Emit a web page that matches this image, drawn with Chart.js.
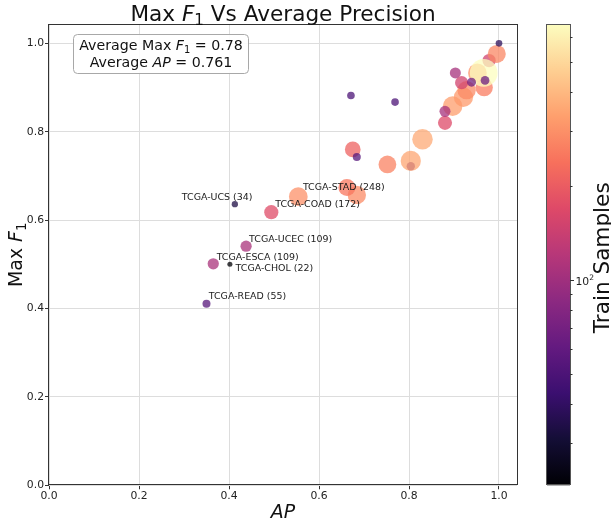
<!DOCTYPE html>
<html>
<head>
<meta charset="utf-8">
<script src="https://cdn.jsdelivr.net/npm/chart.js@4.4.0/dist/chart.umd.min.js"></script>
<style>
  html, body { margin: 0; padding: 0; background: #ffffff; }
  canvas { display: block; }
</style>
</head>
<body>
<canvas id="chart" width="611" height="522"></canvas>
<script>
// Per-cohort results, listed in drawing order (later entries sit on top).
const cohorts = [
  '', '', '', '', '', '', '', '', '', '',
  '', '', '', '', '', '', '', 'TCGA-STAD', 'TCGA-COAD', '',
  '', 'TCGA-UCEC', 'TCGA-ESCA', '', '', '', '', '', 'TCGA-READ', 'TCGA-UCS',
  '', 'TCGA-CHOL'
];
const apValues = [
  0.804, 0.978, 0.897, 0.921, 0.928, 0.967, 0.952, 0.830, 0.804, 0.752,
  0.684, 0.554, 0.995, 0.966, 0.675, 0.880, 0.917, 0.662, 0.494, 0.880,
  0.903, 0.438, 0.365, 0.939, 0.969, 0.671, 0.769, 0.684, 0.350, 0.413,
  1.000, 0.402
];
const maxF1Values = [
  0.722, 0.961, 0.858, 0.878, 0.894, 0.900, 0.933, 0.783, 0.734, 0.726,
  0.657, 0.653, 0.976, 0.933, 0.760, 0.820, 0.911, 0.674, 0.618, 0.846,
  0.933, 0.541, 0.501, 0.912, 0.916, 0.882, 0.867, 0.743, 0.411, 0.636,
  1.000, 0.500
];
const trainSamples = [
  60, 150, 330, 320, 290, 260, 300, 360, 350, 270,
  290, 300, 280, 660, 210, 170, 150, 248, 172, 105,
  105, 109, 109, 68, 65, 50, 50, 55, 55, 34,
  38, 22
];
const axisTicks = [0.0, 0.2, 0.4, 0.6, 0.8, 1.0];
const colorbarMinorTicks = [30, 40, 50, 60, 70, 80, 90, 200, 300, 400, 500, 600];
const colorbarMajorTicks = [100];
const summaryLines = [
  [{ t: 'Average Max ' }, { t: 'F', i: true }, { t: '1', sub: true }, { t: ' = 0.78' }],
  [{ t: 'Average ' }, { t: 'AP', i: true }, { t: ' = 0.761' }]
];

const FONT = '"DejaVu Sans", sans-serif';
const MAGMA = ['#000004', '#140e36', '#3b0f70', '#641a80', '#8c2981', '#b73779',
               '#de4968', '#f7705c', '#fe9f6d', '#fecf92', '#fcfdbf'];
const vmin = Math.min(...trainSamples);
const vmax = Math.max(...trainSamples);

function hexToRgb(h) {
  return [parseInt(h.slice(1, 3), 16), parseInt(h.slice(3, 5), 16), parseInt(h.slice(5, 7), 16)];
}
function magma(f) {
  f = Math.max(0, Math.min(1, f));
  const p = f * (MAGMA.length - 1);
  const i = Math.min(MAGMA.length - 2, Math.floor(p));
  const t = p - i;
  const a = hexToRgb(MAGMA[i]), b = hexToRgb(MAGMA[i + 1]);
  return a.map((v, k) => Math.round(v + (b[k] - v) * t));
}
function logNorm(n) {
  return (Math.log10(n) - Math.log10(vmin)) / (Math.log10(vmax) - Math.log10(vmin));
}
function sampleColor(n, alpha) {
  const c = magma(logNorm(n));
  return `rgba(${c[0]},${c[1]},${c[2]},${alpha})`;
}
function markerRadius(n) {
  return 0.54 * Math.sqrt(n);
}

// Label placement relative to each annotated marker (text left edge, text middle)
const labelOffsets = {
  'TCGA-UCS': [-53, -6.3],
  'TCGA-STAD': [-44, 0],
  'TCGA-COAD': [4, -8],
  'TCGA-UCEC': [3, -7],
  'TCGA-ESCA': [3.4, -6.7],
  'TCGA-CHOL': [5.7, 4.4],
  'TCGA-READ': [2.3, -6.7]
};

function partFont(p, size) {
  const s = (p.sub || p.sup) ? size * 0.7 : size;
  return `${p.i ? 'italic ' : ''}${s}px ${FONT}`;
}
function richWidth(ctx, parts, size) {
  let w = 0;
  for (const p of parts) { ctx.font = partFont(p, size); w += ctx.measureText(p.t).width; }
  return w;
}
function drawRich(ctx, parts, x, y, size, align) {
  const w = richWidth(ctx, parts, size);
  let cx = align === 'center' ? x - w / 2 : (align === 'right' ? x - w : x);
  ctx.textAlign = 'left';
  ctx.textBaseline = 'alphabetic';
  for (const p of parts) {
    ctx.font = partFont(p, size);
    const dy = p.sub ? size * 0.2 : (p.sup ? -size * 0.38 : 0);
    ctx.fillText(p.t, cx, y + dy);
    cx += ctx.measureText(p.t).width;
  }
}

const overlay = {
  id: 'overlay',
  afterDraw(chart) {
    const ctx = chart.ctx;
    const area = chart.chartArea;
    const xs = chart.scales.x, ys = chart.scales.y, cb = chart.scales.cb;
    ctx.save();

    // axes frame
    ctx.strokeStyle = '#333333';
    ctx.lineWidth = 1;
    ctx.strokeRect(Math.round(area.left) - 0.5, Math.round(area.top) + 0.5,
                   Math.round(area.right) - Math.round(area.left) + 1,
                   Math.round(area.bottom) - Math.round(area.top) - 1);

    // cohort annotations
    ctx.fillStyle = '#1a1a1a';
    ctx.font = `9.45px ${FONT}`;
    ctx.textAlign = 'left';
    ctx.textBaseline = 'middle';
    cohorts.forEach((name, i) => {
      if (!name) return;
      const off = labelOffsets[name] || [3, -7];
      const px = xs.getPixelForValue(apValues[i]);
      const py = ys.getPixelForValue(maxF1Values[i]);
      ctx.fillText(`${name} (${trainSamples[i]})`, px + off[0], py + off[1]);
    });

    // summary box
    const bx = 73.5, by = 34.5, bw = 175, bh = 39, r = 4;
    ctx.beginPath();
    ctx.moveTo(bx + r, by);
    ctx.lineTo(bx + bw - r, by);
    ctx.arcTo(bx + bw, by, bx + bw, by + r, r);
    ctx.lineTo(bx + bw, by + bh - r);
    ctx.arcTo(bx + bw, by + bh, bx + bw - r, by + bh, r);
    ctx.lineTo(bx + r, by + bh);
    ctx.arcTo(bx, by + bh, bx, by + bh - r, r);
    ctx.lineTo(bx, by + r);
    ctx.arcTo(bx, by, bx + r, by, r);
    ctx.closePath();
    ctx.fillStyle = 'rgba(255,255,255,0.9)';
    ctx.fill();
    ctx.strokeStyle = '#a8a8a8';
    ctx.stroke();
    ctx.fillStyle = '#111111';
    drawRich(ctx, summaryLines[0], bx + bw / 2, 50.3, 14.2, 'center');
    drawRich(ctx, summaryLines[1], bx + bw / 2, 67, 14.2, 'center');

    // title
    const midX = (area.left + area.right) / 2;
    ctx.fillStyle = '#111111';
    drawRich(ctx, [{ t: 'Max ' }, { t: 'F', i: true }, { t: '1', sub: true }, { t: ' Vs Average Precision' }],
             midX, 20.5, 21.6, 'center');

    // axis titles
    drawRich(ctx, [{ t: 'AP', i: true }], midX, 518, 18.9, 'center');
    ctx.save();
    ctx.translate(22, (area.top + area.bottom) / 2);
    ctx.rotate(-Math.PI / 2);
    drawRich(ctx, [{ t: 'Max ' }, { t: 'F', i: true }, { t: '1', sub: true }], 0, 0, 18.9, 'center');
    ctx.restore();

    // colorbar
    const cx0 = area.right + 30, cw = 23;
    const top = cb.top, bottom = cb.bottom;
    const grad = ctx.createLinearGradient(0, bottom, 0, top);
    MAGMA.forEach((c, i) => grad.addColorStop(i / (MAGMA.length - 1), c));
    ctx.fillStyle = grad;
    ctx.fillRect(cx0, top, cw, bottom - top);
    ctx.strokeStyle = '#555555';
    ctx.lineWidth = 1;
    ctx.strokeRect(Math.round(cx0) - 0.5, Math.round(top) + 0.5, cw + 1, Math.round(bottom - top) - 1);

    ctx.strokeStyle = '#333333';
    colorbarMinorTicks.forEach(v => {
      const y = Math.round(cb.getPixelForValue(v)) + 0.5;
      ctx.beginPath(); ctx.moveTo(cx0 + cw, y); ctx.lineTo(cx0 + cw + 2.5, y); ctx.stroke();
    });
    ctx.fillStyle = '#222222';
    colorbarMajorTicks.forEach(v => {
      const y = Math.round(cb.getPixelForValue(v)) + 0.5;
      ctx.beginPath(); ctx.moveTo(cx0 + cw, y); ctx.lineTo(cx0 + cw + 4, y); ctx.stroke();
      const e = Math.round(Math.log10(v));
      drawRich(ctx, [{ t: '10' }, { t: String(e), sup: true }], cx0 + cw + 5.5, y + 4, 10.8, 'left');
    });

    ctx.fillStyle = '#111111';
    ctx.save();
    ctx.translate(608.8, (top + bottom) / 2 + 3);
    ctx.rotate(-Math.PI / 2);
    drawRich(ctx, [{ t: 'Train Samples' }], 0, 0, 21.6, 'center');
    ctx.restore();

    ctx.restore();
  }
};

const points = apValues.map((ap, i) => ({ x: ap, y: maxF1Values[i] }));

const tickFont = { family: FONT, size: 10.8 };

new Chart(document.getElementById('chart').getContext('2d'), {
  type: 'scatter',
  data: {
    datasets: [{
      data: points,
      pointRadius: c => markerRadius(trainSamples[c.dataIndex]),
      pointHoverRadius: c => markerRadius(trainSamples[c.dataIndex]),
      backgroundColor: c => sampleColor(trainSamples[c.dataIndex], 0.75),
      borderWidth: 0,
      clip: false
    }]
  },
  options: {
    responsive: false,
    animation: false,
    devicePixelRatio: 1,
    events: [],
    layout: { padding: { left: 0, right: 94, top: 24.3, bottom: 0 } },
    plugins: {
      legend: { display: false },
      tooltip: { enabled: false },
      title: { display: false }
    },
    scales: {
      x: {
        type: 'linear',
        min: 0,
        max: 1.04,
        afterFit(s) { s.height = 36.7; },
        afterBuildTicks(s) { s.ticks = axisTicks.map(v => ({ value: v })); },
        ticks: {
          callback: v => Number(v).toFixed(1),
          font: tickFont, color: '#222222', padding: 0,
          maxRotation: 0, autoSkip: false
        },
        grid: { color: '#dddddd', lineWidth: 1, tickLength: 4, tickColor: '#333333' },
        border: { display: false }
      },
      y: {
        type: 'linear',
        min: 0,
        max: 1.043,
        afterFit(s) { s.width = 49; },
        afterBuildTicks(s) { s.ticks = axisTicks.map(v => ({ value: v })); },
        ticks: {
          callback: v => Number(v).toFixed(1),
          font: tickFont, color: '#222222', padding: 1,
          autoSkip: false
        },
        grid: { color: '#dddddd', lineWidth: 1, tickLength: 4, tickColor: '#333333' },
        border: { display: false }
      },
      cb: {
        type: 'logarithmic',
        position: 'right',
        display: false,
        min: vmin,
        max: vmax
      }
    }
  },
  plugins: [overlay]
});
</script>
</body>
</html>
